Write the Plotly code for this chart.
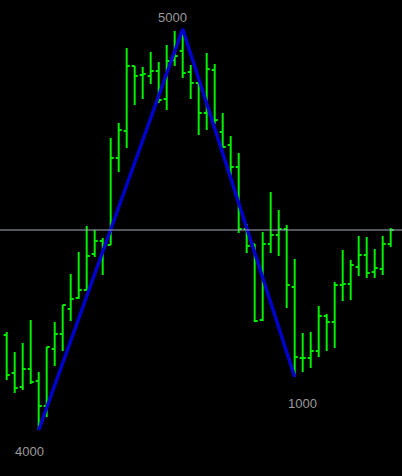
import plotly.graph_objects as go

bar_index = list(range(49))
open_ = [141, 103, 89, 107, 95, 70, 127, 142, 167, 178, 186, 222, 235, 231, 318, 345, 410, 401, 400, 405,
         377, 416, 425, 404, 393, 363, 406, 344, 331, 309, 247, 232, 156, 232, 241, 247, 189, 118, 118, 125,
         160, 154, 191, 192, 209, 221, 204, 207, 232]
high = [144, 124, 133, 156, 104, 129, 154, 171, 202, 224, 250, 246, 238, 338, 353, 428, 410, 409, 424, 414,
        431, 445, 447, 411, 393, 423, 412, 363, 340, 323, 252, 232, 244, 284, 266, 251, 217, 143, 144, 170,
        162, 194, 226, 216, 240, 239, 227, 240, 248]
low = [96, 83, 86, 92, 46, 59, 110, 125, 155, 177, 186, 219, 201, 231, 304, 328, 371, 377, 392, 373,
       366, 410, 398, 377, 341, 346, 352, 328, 301, 243, 223, 154, 155, 223, 220, 168, 99, 104, 108, 119,
       125, 128, 175, 176, 200, 198, 198, 201, 229]
close = [101, 88, 107, 94, 70, 129, 142, 171, 177, 186, 220, 235, 228, 318, 346, 410, 400, 402, 405, 376,
         415, 420, 403, 393, 363, 407, 356, 329, 309, 247, 230, 155, 232, 241, 247, 191, 119, 118, 125, 160,
         154, 191, 192, 211, 221, 203, 208, 232, 246]

wave_index = [4, 22, 36]
wave_labels = ["4000", "5000", "1000"]
level = 246

wave_y = [low[4], high[22], low[36]]

fig = go.Figure()
fig.add_trace(go.Ohlc(
    x=bar_index, open=open_, high=high, low=low, close=close,
    increasing=dict(line=dict(color="#00ee00", width=2)),
    decreasing=dict(line=dict(color="#00ee00", width=2)),
    tickwidth=0.38, hoverinfo="skip", showlegend=False,
))
fig.add_trace(go.Scatter(
    x=wave_index, y=wave_y, mode="lines",
    line=dict(color="#0000cc", width=3.5), hoverinfo="skip", showlegend=False,
))
fig.add_shape(type="line", xref="paper", x0=0, x1=1, yref="y", y0=level, y1=level,
              line=dict(color="#a8b0bc", width=1))

shifts = [(-9, -21), (-10, 12), (8, -26)]
for xi, yi, lab, (dx, dy) in zip(wave_index, wave_y, wave_labels, shifts):
    fig.add_annotation(x=xi, y=yi, text=lab, showarrow=False, xshift=dx, yshift=dy,
                       font=dict(family="Liberation Sans, Arial", size=13, color="#9a9a9a"))

fig.update_layout(
    width=402, height=476,
    margin=dict(l=0, r=0, t=0, b=0),
    paper_bgcolor="#000000", plot_bgcolor="#000000",
    xaxis=dict(range=[-0.8375, 49.4125], visible=False, rangeslider=dict(visible=False), fixedrange=True),
    yaxis=dict(range=[0, 476], visible=False, fixedrange=True),
    showlegend=False,
)
fig.write_html("out.html", config={"displayModeBar": False},
               post_script="document.body.style.margin='0';document.body.style.background='#000';")
